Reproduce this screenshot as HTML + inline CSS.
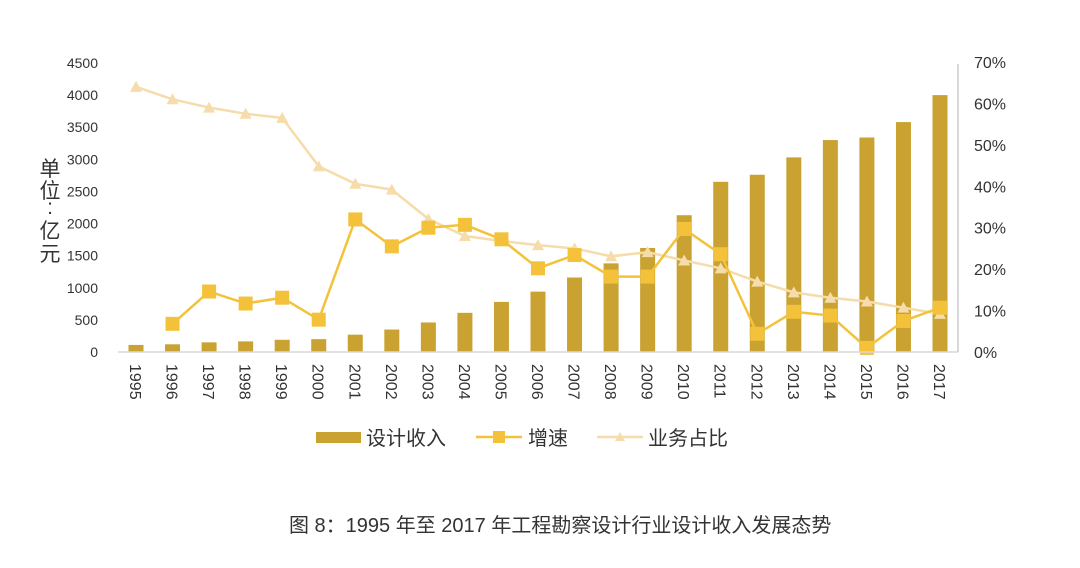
<!DOCTYPE html>
<html><head><meta charset="utf-8">
<style>
html,body{margin:0;padding:0;background:#fff;}
body{width:1080px;height:563px;overflow:hidden;font-family:"Liberation Sans","Noto Sans CJK SC",sans-serif;}
</style></head>
<body>
<svg id="chart" width="1080" height="563" viewBox="0 0 1080 563" xmlns="http://www.w3.org/2000/svg" font-family="Liberation Sans, Noto Sans CJK SC, sans-serif">
<g id="grid"></g>
<g id="bars"></g>
<g id="lines"></g>
<g id="axes"></g>
<g font-size="21" fill="#333" text-anchor="middle">
<text x="50" y="176">单</text>
<text x="50" y="198">位</text>
<text x="50" y="214">:</text>
<text x="50" y="238">亿</text>
<text x="50" y="261">元</text>
</g>
<g>
<rect x="316" y="432" width="45" height="11" fill="#c9a232"/>
<text x="366" y="445" font-size="20" fill="#333">设计收入</text>
<line x1="476" y1="437" x2="522" y2="437" stroke="#f4c23a" stroke-width="2.5"/>
<rect x="493" y="431" width="12" height="12" fill="#f4c23a"/>
<text x="528" y="445" font-size="20" fill="#333">增速</text>
<line x1="597" y1="437" x2="643" y2="437" stroke="#f5dcaa" stroke-width="2.5"/>
<polygon points="620,432 625,441 615,441" fill="#f5dcaa"/>
<text x="648" y="445" font-size="20" fill="#333">业务占比</text>
</g>
<text x="289" y="532" font-size="20" fill="#333">图 8：1995 年至 2017 年工程勘察设计行业设计收入发展态势</text>
</svg>
<script>
const years = ["1995","1996","1997","1998","1999","2000","2001","2002","2003","2004","2005","2006","2007","2008","2009","2010","2011","2012","2013","2014","2015","2016","2017"];
const revenue = [110,120,150,165,190,200,270,350,460,610,780,940,1160,1380,1620,2130,2650,2760,3030,3300,3340,3580,4000];
const growth = [null,6.8,14.6,11.7,13.1,7.8,32,25.5,30,30.7,27.2,20.2,23.4,18.2,18.2,29.7,23.6,4.4,9.7,8.8,1,7.5,10.7];
const share = [64,61,59,57.5,56.5,44.8,40.6,39.2,32.1,28,26.8,25.8,25,23.1,24.1,22.1,20.2,17,14.4,13.1,12.2,10.7,9.2];
const leftTicks = [0,500,1000,1500,2000,2500,3000,3500,4000,4500];
const rightTicks = [0,10,20,30,40,50,60,70];

const NS="http://www.w3.org/2000/svg";
const X0=136, STEP=(940-136)/22, BASE=352, TOP=63;
const xPos = i => X0 + i*STEP;
const yL = v => BASE - v/4500*(BASE-TOP);
const yR = v => BASE - v/70*(BASE-TOP+1);
function mk(tag, parent, attrs){const e=document.createElementNS(NS,tag);for(const k in attrs)e.setAttribute(k,attrs[k]);parent.appendChild(e);return e;}

const axes=document.getElementById('axes');
let bl=mk('line',axes,{x1:118,y1:BASE,x2:958,y2:BASE,stroke:'#d9d9d9','stroke-width':1.5});


let ra=mk('line',axes,{x1:958,y1:64,x2:958,y2:BASE,stroke:'#bfbfbf','stroke-width':1.2});


leftTicks.forEach(t=>{
  const e=mk('text',axes,{x:98,y:yL(t)+5,'font-size':14,fill:'#333','text-anchor':'end'});
  e.textContent=t;
  
  
});
rightTicks.forEach(t=>{
  const e=mk('text',axes,{x:974,y:yR(t)+6,'font-size':16,fill:'#333'});
  e.textContent=t+'%';
  
  
});
years.forEach((y,i)=>{
  const x=xPos(i);
  const e=mk('text',axes,{x:0,y:0,'font-size':16,fill:'#333',transform:`translate(${x-6},364) rotate(90)`});
  e.textContent=y;
  
  
});

const bars=document.getElementById('bars');
revenue.forEach((v,i)=>{
  const r=mk('rect',bars,{x:xPos(i)-7.5,y:yL(v),width:15,height:BASE-yL(v),fill:'#c9a232'});
  
  
});

const lines=document.getElementById('lines');
function pts(arr){return arr.map((v,i)=>v==null?null:[xPos(i),yR(v)]).filter(p=>p);}
const sp=pts(share);
const sl=mk('polyline',lines,{points:sp.map(p=>p.join(',')).join(' '),fill:'none',stroke:'#f5dcaa','stroke-width':2.5});


sp.forEach(p=>{
  const t=mk('polygon',lines,{points:`${p[0]},${p[1]-6} ${p[0]+6},${p[1]+5} ${p[0]-6},${p[1]+5}`,fill:'#f5dcaa'});
  
  
});
const gp=pts(growth);
const gl=mk('polyline',lines,{points:gp.map(p=>p.join(',')).join(' '),fill:'none',stroke:'#f4c23a','stroke-width':2.5});


gp.forEach(p=>{
  const s=mk('rect',lines,{x:p[0]-7,y:p[1]-7,width:14,height:14,fill:'#f4c23a'});
  
  
});
</script>
</body></html>
